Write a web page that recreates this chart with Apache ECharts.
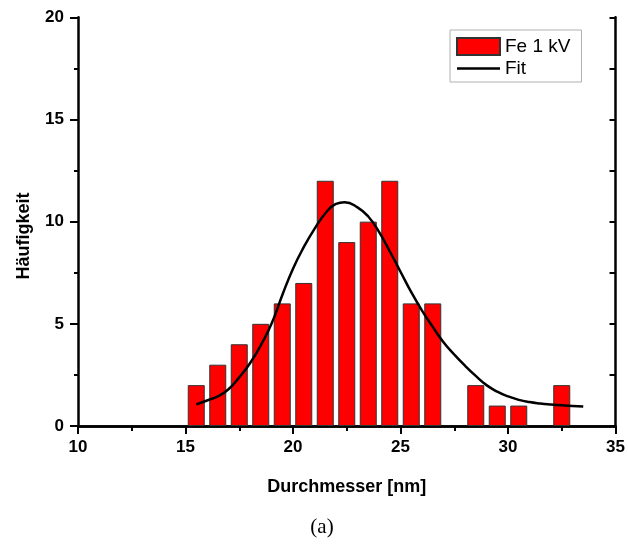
<!DOCTYPE html>
<html>
<head>
<meta charset="utf-8">
<script src="https://cdn.jsdelivr.net/npm/echarts@6/dist/echarts.min.js"></script>
<style>
  html, body { margin: 0; padding: 0; background: #fff; }
  #chart { width: 628px; height: 547px; }
</style>
</head>
<body>
<div id="chart"></div>
<script>
// Histogram bins (bin centres in nm) and counts
const binCenters = [15.5, 16.5, 17.5, 18.5, 19.5, 20.5, 21.5, 22.5, 23.5, 24.5, 25.5, 26.5, 27.5, 28.5, 29.5, 30.5, 31.5, 32.5];
const counts     = [2,    3,    4,    5,    6,    7,    12,   9,    10,   12,   6,    6,    0,    2,    1,    1,    0,    2];

// Fitted distribution curve, sampled points
const fitX = [15.5, 16.0, 16.5, 17.0, 17.5, 18.0, 18.5, 19.0, 19.5, 20.0, 20.5, 21.0, 21.5, 22.0, 22.4, 23.0, 23.5, 24.0, 24.5, 25.0, 25.5, 26.0, 26.5, 27.0, 27.5, 28.0, 28.5, 29.0, 29.5, 30.0, 30.5, 31.0, 31.5, 32.0, 32.5, 33.0, 33.5];
const fitY = [1.06, 1.25, 1.45, 1.80, 2.38, 3.07, 3.95, 5.00, 6.40, 7.70, 8.75, 9.65, 10.40, 10.87, 10.95, 10.70, 10.25, 9.50, 8.55, 7.55, 6.55, 5.65, 4.85, 4.10, 3.50, 2.95, 2.45, 2.00, 1.68, 1.45, 1.28, 1.17, 1.10, 1.05, 1.01, 0.98, 0.95];

// Axis ranges and ticks
const xMin = 10, xMax = 35, xStep = 5;
const yMin = 0, yMax = 20, yStep = 5;

const barData = binCenters.map((c, i) => [c, counts[i]]).filter(d => d[1] > 0);
const fitData = fitX.map((x, i) => [x, fitY[i]]);

const axisFont = { fontFamily: 'Liberation Sans, Arial, sans-serif', fontWeight: 'bold', fontSize: 17, color: '#000' };
const frameLine = { show: true, lineStyle: { color: '#000', width: 2.5 } };

// legend glyph for the fit: a thin horizontal stroke, with tiny corner marks fixing the box size
const fitIcon = 'path://M0,0h0.01v0.01h-0.01z M0,7.2h43v2.6h-43z M42.99,16.99h0.01v0.01h-0.01z';

const chart = echarts.init(document.getElementById('chart'), null, { renderer: 'canvas' });
chart.setOption({
  backgroundColor: '#fff',
  animation: false,
  grid: { left: 78, right: 12.5, top: 17.3, bottom: 121, containLabel: false },
  legend: {
    left: 450, top: 30,
    orient: 'vertical',
    itemWidth: 43, itemHeight: 17, itemGap: 3,
    padding: [7, 11, 4, 6],
    borderColor: '#b0b0b0', borderWidth: 1,
    textStyle: { fontFamily: 'Liberation Sans, Arial, sans-serif', fontSize: 19, color: '#000' },
    data: [
      { name: 'Fe 1 kV', icon: 'rect' },
      { name: 'Fit', icon: fitIcon, itemStyle: { color: '#000', borderWidth: 0 } }
    ]
  },
  xAxis: [
    {
      type: 'value', position: 'bottom', min: xMin, max: xMax, interval: xStep,
      axisLine: frameLine,
      axisTick: { show: true, inside: false, length: 8, lineStyle: { color: '#000', width: 2 } },
      minorTick: { show: true, splitNumber: 2, length: 4, lineStyle: { color: '#000', width: 2 } },
      splitLine: { show: false },
      axisLabel: Object.assign({ margin: 13 }, axisFont),
      name: 'Durchmesser [nm]', nameLocation: 'middle', nameGap: 52,
      nameTextStyle: { fontFamily: 'Liberation Sans, Arial, sans-serif', fontWeight: 'bold', fontSize: 18, color: '#000' }
    },
    {
      type: 'value', position: 'top', min: xMin, max: xMax, interval: 2.5,
      axisLine: frameLine,
      axisTick: { show: true, inside: true, length: 5, lineStyle: { color: '#000', width: 2 } },
      splitLine: { show: false },
      axisLabel: { show: false }
    }
  ],
  yAxis: [
    {
      type: 'value', position: 'left', min: yMin, max: yMax, interval: yStep,
      axisLine: frameLine,
      axisTick: { show: true, inside: false, length: 8, lineStyle: { color: '#000', width: 2 } },
      minorTick: { show: true, splitNumber: 2, length: 4, lineStyle: { color: '#000', width: 2 } },
      splitLine: { show: false },
      axisLabel: Object.assign({ margin: 14 }, axisFont)
    },
    {
      type: 'value', position: 'right', min: yMin, max: yMax, interval: 2.5,
      axisLine: frameLine,
      axisTick: { show: true, inside: true, length: 6, lineStyle: { color: '#000', width: 2 } },
      splitLine: { show: false },
      axisLabel: { show: false }
    }
  ],
  graphic: [
    {
      type: 'text', x: 24, y: 236, rotation: Math.PI / 2,
      style: {
        text: 'Häufigkeit', textAlign: 'center', textVerticalAlign: 'middle',
        font: 'bold 18px "Liberation Sans", Arial, sans-serif', fill: '#000'
      }
    },
    {
      type: 'text', x: 322, y: 527,
      style: {
        text: '(a)', textAlign: 'center', textVerticalAlign: 'middle',
        font: '21px "Liberation Serif", "DejaVu Serif", serif', fill: '#000'
      }
    }
  ],
  series: [
    {
      name: 'Fe 1 kV', type: 'bar', xAxisIndex: 0, yAxisIndex: 0,
      barWidth: 17,
      itemStyle: { color: '#ff0000', borderColor: '#333', borderWidth: 1 },
      data: barData
    },
    {
      name: 'Fit', type: 'line', xAxisIndex: 0, yAxisIndex: 0,
      smooth: true, symbol: 'none', showSymbol: false,
      lineStyle: { color: '#000', width: 2.5 },
      itemStyle: { color: '#000' },
      data: fitData,
      z: 5
    }
  ]
});
</script>
</body>
</html>
